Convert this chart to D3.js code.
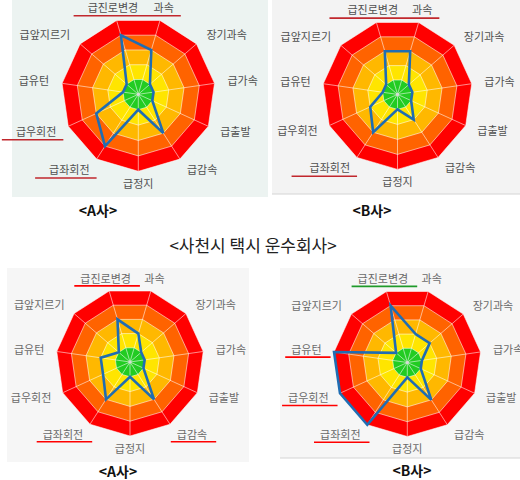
<!DOCTYPE html>
<html>
<head>
<meta charset="utf-8">
<script src="https://cdn.jsdelivr.net/npm/d3@7"></script>
<style>
  body { margin: 0; background: #fff; }
  svg { font-family: "Noto Sans CJK KR", "Noto Sans", sans-serif; }
</style>
</head>
<body>
<svg id="chart" width="520" height="480"></svg>
<script>
// axes clockwise, starting at the first spoke right of the top
const axes = ['과속', '장기과속', '급가속', '급출발', '급감속', '급정지', '급좌회전', '급우회전', '급유턴', '급앞지르기', '급진로변경'];
const levels = [1, 2, 3, 4, 5];
const bandColors = ['#22cc22', '#ffe500', '#ffb800', '#ff6300', '#ff0000'];

// values
const aTop = [3, 1, 1, 1, 3, 1, 4, 3, 1, 1, 4];
const bTop = [3, 1, 1, 1, 2, 1, 3, 2, 1, 1, 3];
const aBottom = [2, 1, 1, 1, 3, 1, 3, 2, 2, 1, 3];
const bBottom = [2, 2, 1, 1, 3, 1, 5, 5, 5, 1, 4];

// labels underlined by hand in the source picture
const aTopMarks = [['급진로변경', '과속'], ['급우회전'], ['급좌회전']];
const bTopMarks = [['급진로변경', '과속'], ['급좌회전']];
const aBottomMarks = [['급진로변경'], ['급좌회전'], ['급감속']];
const bBottomMarks = [['급진로변경'], ['급유턴'], ['급우회전'], ['급좌회전']];

const mainTitle = '<사천시 택시 운수회사>';

const panels = [
    { title: '<A사>', values: aTop, marks: aTopMarks, markColors: ['#c1272d'],
      cx: 138.3, cy: 94.3, r: 77, box: [12, 0, 256, 197], bg: '#ecf3f1', border: false,
      titleX: 98, titleY: 211, labelColor: '#505050', pad: [14, 7], markDy: 9 },
    { title: '<B사>', values: bTop, marks: bTopMarks, markColors: ['#c1272d'],
      cx: 397.5, cy: 94.4, r: 75, box: [272, 0, 248, 194], bg: '#f3f3f3', border: true,
      titleX: 372, titleY: 211, labelColor: '#505050', pad: [18, 7], markDy: 9 },
    { title: '<A사>', values: aBottom, marks: aBottomMarks, markColors: ['#ff0000'],
      cx: 130, cy: 362, r: 74, box: [7, 268, 242, 194], bg: '#f6f6f6', border: false,
      titleX: 118, titleY: 472, labelColor: '#6a6a6a', pad: [6, 9], markDy: 8 },
    { title: '<B사>', values: bBottom, marks: bBottomMarks, markColors: ['#1f9a2a', '#ff0000', '#ff0000', '#ff0000'],
      cx: 407.3, cy: 362.5, r: 74, box: [280, 268, 240, 190], bg: '#f6f6f6', border: true,
      titleX: 412, titleY: 471, labelColor: '#6a6a6a', pad: [6, 9], markDy: 8 },
];

const svg = d3.select('#chart');
const n = axes.length;
const angle = d3.scaleLinear().domain([0, n]).range([Math.PI / n, 2 * Math.PI + Math.PI / n]);

function drawRadar(p) {
    const rScale = d3.scaleLinear().domain([0, 5]).range([0, p.r]);

    svg.append('rect')
        .attr('x', p.box[0]).attr('y', p.box[1])
        .attr('width', p.box[2]).attr('height', p.box[3])
        .attr('fill', p.bg);
    if (p.border) {
        svg.append('line')
            .attr('x1', p.box[0]).attr('x2', p.box[0] + p.box[2])
            .attr('y1', p.box[1] + p.box[3]).attr('y2', p.box[1] + p.box[3])
            .attr('stroke', '#d4d4d4').attr('stroke-width', 1);
    }

    const g = svg.append('g').attr('transform', `translate(${p.cx},${p.cy})`);
    const ring = lvl => d3.lineRadial()
        .angle((d, i) => angle(i))
        .radius(() => rScale(lvl))
        .curve(d3.curveLinearClosed)(axes);

    // colour bands, outer first
    levels.slice().reverse().forEach(lvl => {
        g.append('path').attr('d', ring(lvl)).attr('fill', bandColors[lvl - 1]);
    });

    // grid rings and spokes
    levels.forEach(lvl => {
        g.append('path').attr('d', ring(lvl))
            .attr('fill', 'none').attr('stroke', '#fff')
            .attr('stroke-opacity', 0.55).attr('stroke-width', 1);
    });
    g.selectAll('.spoke').data(axes).join('line')
        .attr('x1', 0).attr('y1', 0)
        .attr('x2', (d, i) => rScale(5) * Math.sin(angle(i)))
        .attr('y2', (d, i) => -rScale(5) * Math.cos(angle(i)))
        .attr('stroke', '#fff').attr('stroke-opacity', 0.55).attr('stroke-width', 1);
    g.append('circle').attr('r', 1.6).attr('fill', '#d8d8d8');

    // data polygon
    const line = d3.lineRadial()
        .angle((d, i) => angle(i))
        .radius(d => rScale(d))
        .curve(d3.curveLinearClosed);
    g.append('path').datum(p.values)
        .attr('d', line)
        .attr('fill', 'none')
        .attr('stroke', '#1f6db3')
        .attr('stroke-width', 2.6)
        .attr('stroke-linejoin', 'miter');

    // axis labels
    const lr = p.r * 1.17;
    const labels = g.selectAll('.lbl').data(axes).join('text')
        .attr('x', (d, i) => lr * Math.sin(angle(i)))
        .attr('y', (d, i) => -lr * Math.cos(angle(i)))
        .attr('dy', '0.36em')
        .attr('text-anchor', (d, i) => {
            const s = Math.sin(angle(i));
            return Math.abs(s) < 0.3 ? 'middle' : (s > 0 ? 'start' : 'end');
        })
        .attr('font-size', 11)
        .attr('fill', p.labelColor)
        .text(d => d);

    // hand-drawn underlines
    p.marks.forEach((group, k) => {
        const boxes = [];
        labels.each(function (d) {
            if (group.includes(d)) boxes.push(this.getBBox());
        });
        const x0 = d3.min(boxes, b => b.x) - p.pad[0];
        const x1 = d3.max(boxes, b => b.x + b.width) + p.pad[1];
        const y = d3.max(boxes, b => b.y + b.height / 2) + p.markDy;
        g.append('line')
            .attr('x1', x0).attr('x2', x1).attr('y1', y).attr('y2', y)
            .attr('stroke', p.markColors[Math.min(k, p.markColors.length - 1)])
            .attr('stroke-width', 1.6);
    });

    svg.append('text')
        .attr('x', p.titleX).attr('y', p.titleY)
        .attr('dy', '0.36em')
        .attr('text-anchor', 'middle')
        .attr('font-size', 14).attr('font-weight', 'bold')
        .attr('fill', '#111')
        .text(p.title);
}

panels.forEach(drawRadar);

svg.append('text')
    .attr('x', 253).attr('y', 246)
    .attr('dy', '0.36em')
    .attr('text-anchor', 'middle')
    .attr('font-size', 17)
    .attr('fill', '#222')
    .text(mainTitle);
</script>
</body>
</html>
